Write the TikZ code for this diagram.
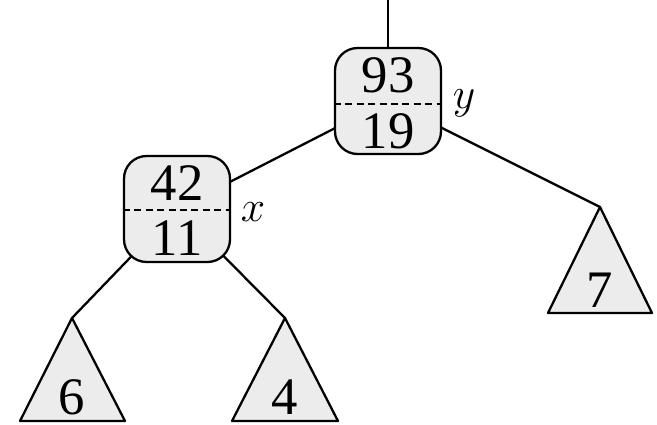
\documentclass[tikz,border=0pt]{standalone}
\usepackage{fontspec}
\setmainfont{Liberation Serif}
\usetikzlibrary{backgrounds}

\begin{document}
\begin{tikzpicture}[x=0.02cm, y=-0.02cm, line width=1.3pt,
    keybox/.style={draw, fill=gray!15, rounded corners=0.45cm, minimum size=2.12cm, inner sep=0pt},
    subtree/.style={draw, fill=gray!15, line join=round},
    link/.style={line width=1.3pt},
    num/.style={font=\fontsize{30}{32}\selectfont, inner sep=0pt},
    tag/.style={font=\fontsize{25}{28}\selectfont, inner sep=0pt}]
        \useasboundingbox (0,0) rectangle (657,424);

        % nodes holding key and size
        \node[keybox] (y) at (388,101) {};
        \node[keybox] (x) at (177,209) {};
        \draw[dashed, dash pattern=on 4pt off 2.5pt] (y.west) ++(0,3) -- ([yshift=-3*0.02cm]y.east);
        \draw[dashed, dash pattern=on 4pt off 2.5pt] (x.west) ++(0,1) -- ([yshift=-1*0.02cm]x.east);
        \node[num] (ykey) at (388,75) {93};
        \node[num] (ysize) at (388,131) {19};
        \node[num] (xkey) at (177,183) {42};
        \node[num] (xsize) at (177,238) {11};
        \node[tag] (ylab) at (464,103) {$y$};
        \node[tag] (xlab) at (253,212) {$x$};

        % subtrees
        \coordinate (top) at (388,0);
        \coordinate (t6) at (72,318);
        \coordinate (t4) at (285,318);
        \coordinate (t7) at (600,207);
        \draw[subtree] (t6) -- ++(-52,103) -- ++(105,0) -- cycle;
        \draw[subtree] (t4) -- ++(-53,103) -- ++(106,0) -- cycle;
        \draw[subtree] (t7) -- ++(-52,106) -- ++(104,0) -- cycle;
        \node[num] (six) at (72,397) {6};
        \node[num] (four) at (285,397) {4};
        \node[num] (seven) at (600,290) {7};

        \begin{scope}[on background layer]
            \draw[link] (top) -- (y.center);
            \draw[link] (y.center) -- (x.center);
            \draw[link] (y.center) -- (t7);
            \draw[link] (x.center) -- (t6);
            \draw[link] (x.center) -- (t4);
        \end{scope}
    \end{tikzpicture}
\end{document}
